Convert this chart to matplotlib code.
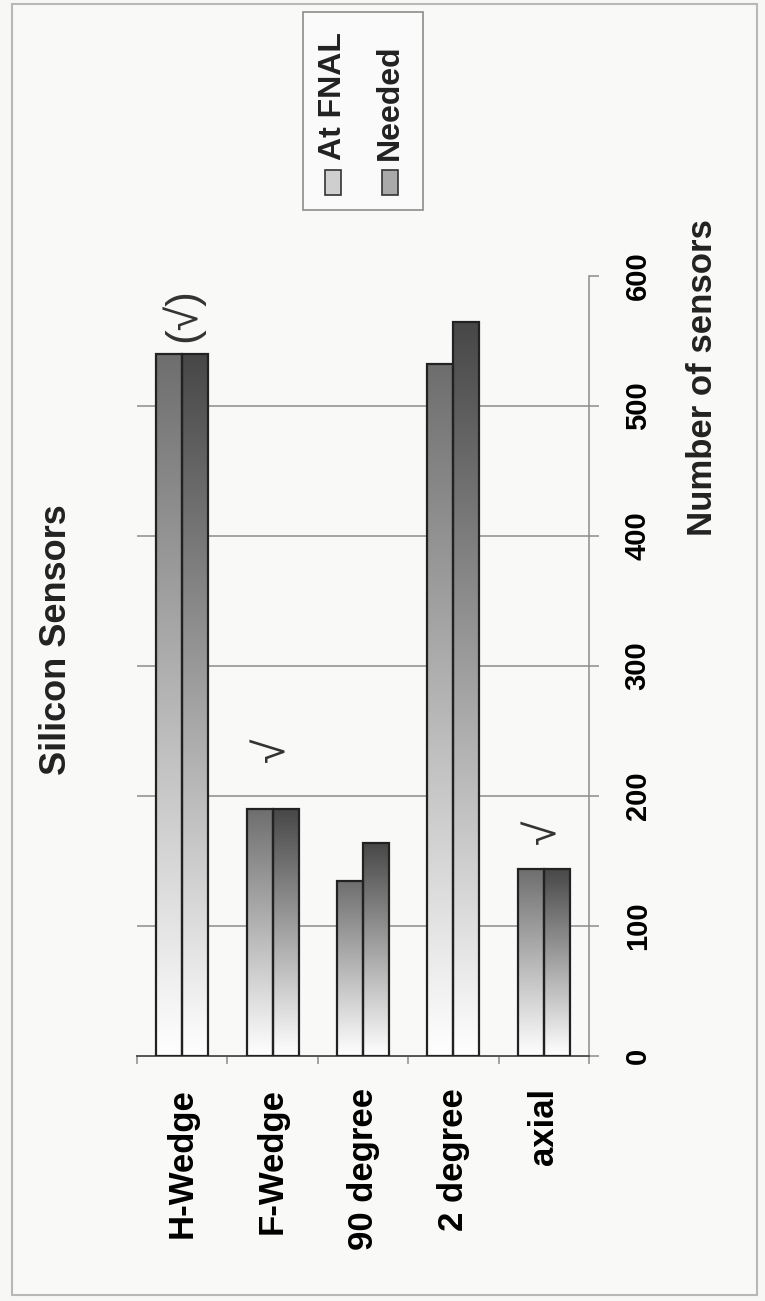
import numpy as np
import matplotlib
matplotlib.use("Agg")
import matplotlib.pyplot as plt
from matplotlib.patches import Rectangle
from matplotlib.colors import LinearSegmentedColormap

# -----------------------------
# data
# -----------------------------
categories = ["H-Wedge", "F-Wedge", "90 degree", "2 degree", "axial"]
series_names = ["At FNAL", "Needed"]
at_fnal = [540, 190, 135, 532, 144]
needed = [540, 190, 164, 565, 144]
value_ticks = [0, 100, 200, 300, 400, 500, 600]
check_marks = ["(√)", "√", "", "", "√"]

# -----------------------------
# style
# -----------------------------
plt.rcParams['font.family'] = ['Liberation Sans', 'DejaVu Sans']
plt.rcParams['font.weight'] = 'bold'

W, H = 765, 1301
bg = '#f7f7f5'
top_colors = ['#6e6e6e', '#474747']
marker_colors = ['#cfcfcf', '#a9a9a9']
check_offsets = [12, 47, 0, 0, 25]   # pixels above the bar top

fig = plt.figure(figsize=(W / 100, H / 100), dpi=100)
fig.patch.set_facecolor(bg)


def fx(x):
    return x / W


def fy(y):
    return 1 - y / H


# outer frame
fig.patches.append(Rectangle((fx(12), fy(1295)), fx(757) - fx(12), fy(4) - fy(1295),
                             transform=fig.transFigure, facecolor='#f9f9f7',
                             edgecolor='#b8b8b8', lw=1.5, zorder=-5))

ax = fig.add_axes([fx(137), fy(1056), fx(589) - fx(137), fy(276) - fy(1056)])
ax.set_facecolor('none')
ax.set_zorder(2)

# -----------------------------
# bars with a white-to-grey fill
# -----------------------------
bar_w = 0.288
grad = np.linspace(0, 1, 256).reshape(-1, 1)
for k, (vals, col) in enumerate(zip([at_fnal, needed], top_colors)):
    cmap = LinearSegmentedColormap.from_list(f"g{k}", ['#ffffff', col])
    offs = (k - 0.5) * bar_w
    bars = ax.bar(np.arange(len(categories)) + offs, vals, width=bar_w,
                  facecolor='none', edgecolor='#222222', lw=1.6, zorder=4)
    for b in bars:
        x0, h = b.get_x(), b.get_height()
        im = ax.imshow(grad, cmap=cmap, origin='lower', aspect='auto',
                       extent=[x0, x0 + bar_w, 0, h], zorder=3, interpolation='bilinear')
        im.set_clip_path(b)

ax.set_xlim(-0.5, len(categories) - 0.5)
ax.set_ylim(value_ticks[0], value_ticks[-1])

# gridlines
for v in value_ticks[1:-1]:
    ax.axhline(v, color='#8c8c8c', lw=1.1, zorder=1)

# value axis on the right
ax.yaxis.tick_right()
ax.set_yticks(value_ticks)
ax.tick_params(axis='y', direction='out', length=7, width=1.1, color='#8c8c8c',
               pad=18, labelsize=21, labelrotation=90)
for t in ax.get_yticklabels():
    t.set_va('center')

# category axis
ax.set_xticks(range(len(categories)))
ax.set_xticklabels(categories, rotation=90, fontsize=25)
ax.set_xticks(np.arange(-0.5, len(categories), 1), minor=True)
ax.tick_params(axis='x', which='major', length=0, pad=23)
ax.tick_params(axis='x', which='minor', direction='out', length=6, width=1.1, color='#8c8c8c')

for s in ['left', 'top']:
    ax.spines[s].set_visible(False)
ax.spines['right'].set_color('#8c8c8c')
ax.spines['right'].set_linewidth(1.1)
ax.spines['bottom'].set_color('#555555')
ax.spines['bottom'].set_linewidth(1.4)

# check marks above the bars
for i, (mark, dy) in enumerate(zip(check_marks, check_offsets)):
    if mark:
        top = max(at_fnal[i], needed[i])
        ax.annotate(mark, (i, top), xytext=(0, dy), textcoords='offset pixels',
                    rotation=90, ha='center', va='bottom', fontsize=32,
                    fontweight='normal', color='#333333', zorder=5)

# titles
fig.text(fx(56), fy(640), "Silicon Sensors", rotation=90, ha='center', va='center',
         fontsize=26, color='#222222')
fig.text(fx(703), fy(378), "Number of sensors", rotation=90, ha='center', va='center',
         fontsize=25, color='#222222')

# -----------------------------
# legend (vertical text)
# -----------------------------
fig.patches.append(Rectangle((fx(303), fy(210)), fx(423) - fx(303), fy(12) - fy(210),
                             transform=fig.transFigure, facecolor='#fafafa',
                             edgecolor='#8c8c8c', lw=1.2, zorder=5))
for name, mc, xc in zip(series_names, marker_colors, [333, 390]):
    fig.patches.append(Rectangle((fx(xc - 8), fy(195)), fx(16), fy(170) - fy(195),
                                 transform=fig.transFigure, facecolor=mc,
                                 edgecolor='#333333', lw=1.2, zorder=6))
    fig.text(fx(xc), fy(160), name, rotation=90, ha='center', va='bottom',
             fontsize=23, color='#222222', zorder=7)

fig.savefig("out.png", dpi=100, facecolor=bg)
